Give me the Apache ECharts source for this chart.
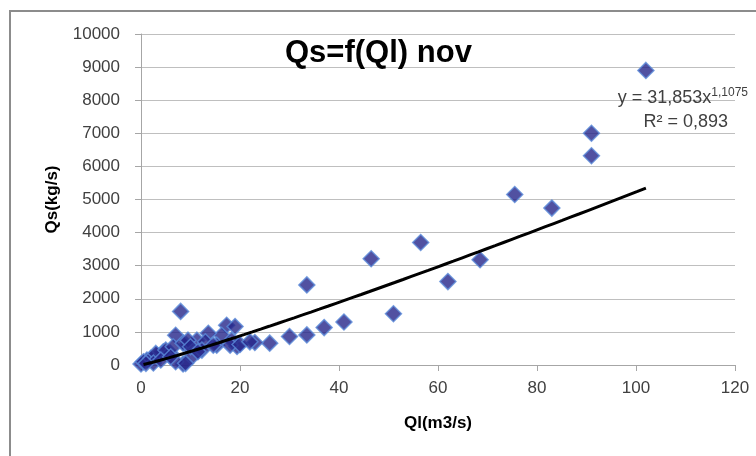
<!DOCTYPE html>
<html>
<head>
<meta charset="utf-8">
<script src="https://cdn.jsdelivr.net/npm/echarts@6/dist/echarts.min.js"></script>
<style>html,body{margin:0;padding:0;background:#fff}#c{width:756px;height:456px}</style>
</head>
<body>
<div id="c"></div>
<script>
// Observed points: Ql (m3/s) and Qs (kg/s)
var qlValues = [102, 91, 91, 75.5, 83, 56.5, 46.5, 68.5, 62, 33.5, 51, 41, 37, 33.5, 30, 26, 23,
  8, 7, 17.3, 19, 16.3, 13.6, 19.4, 18.3, 11.3, 13, 15.3, 8.5, 10.3, 9.2, 4.5, 3.2, 1.2, 0, 5.9,
  12.3, 14.6, 0.5, 2, 3, 5, 6.5, 8.5, 9.5, 10, 7, 9, 11.5, 2.5, 4, 1, 6, 18, 20, 22];
var qsValues = [8900, 7000, 6320, 5150, 4740, 3700, 3210, 3180, 2520, 2420, 1550, 1300, 1130, 910, 860, 660, 680,
  1620, 900, 1200, 1160, 900, 960, 560, 750, 750, 700, 600, 30, 250, 600, 400, 300, 150, 30, 360,
  450, 600, 100, 200, 350, 450, 550, 660, 750, 550, 100, 50, 400, 60, 150, 50, 250, 600, 620, 700];
// Trend line coefficients as shown on the chart: y = a * x^b
var trendA = 31.853, trendB = 1.1075;
var trendRange = [0.5, 102];
var xTicks = [0, 20, 40, 60, 80, 100, 120];
var yTicks = [0, 1000, 2000, 3000, 4000, 5000, 6000, 7000, 8000, 9000, 10000];
var titleText = 'Qs=f(Ql) nov';
var xName = 'Ql(m3/s)';
var yName = 'Qs(kg/s)';

var pts = qlValues.map(function (x, i) { return [x, qsValues[i]]; });
var trend = [];
for (var k = 0; k <= 60; k++) {
  var x = trendRange[0] + (trendRange[1] - trendRange[0]) * k / 60;
  trend.push([x, trendA * Math.pow(x, trendB)]);
}

var chart = echarts.init(document.getElementById('c'), null, {renderer: 'canvas'});
var font = '"Liberation Sans", Arial, sans-serif';
chart.setOption({
  animation: false,
  backgroundColor: '#fff',
  title: {
    text: titleText, left: 280, top: 33,
    textStyle: {fontFamily: font, fontSize: 31, fontWeight: 'bold', color: '#000'}
  },
  grid: {left: 141, right: 21, top: 34, bottom: 91, containLabel: false},
  xAxis: {
    type: 'value', min: xTicks[0], max: xTicks[xTicks.length - 1], interval: 20,
    name: xName, nameLocation: 'middle', nameGap: 50,
    nameTextStyle: {fontFamily: font, fontSize: 17, fontWeight: 'bold', color: '#000'},
    axisLine: {lineStyle: {color: '#a6a6a6', width: 1}},
    axisTick: {show: true, length: 6, lineStyle: {color: '#a6a6a6'}},
    axisLabel: {fontFamily: font, fontSize: 17, color: '#404040', margin: 15},
    splitLine: {show: false}
  },
  yAxis: {
    type: 'value', min: yTicks[0], max: yTicks[yTicks.length - 1], interval: 1000,
    name: yName, nameLocation: 'middle', nameGap: 80, nameRotate: 90,
    nameTextStyle: {fontFamily: font, fontSize: 17, fontWeight: 'bold', color: '#000'},
    axisLine: {show: true, lineStyle: {color: '#a6a6a6', width: 1}},
    axisTick: {show: true, length: 6, lineStyle: {color: '#a6a6a6'}},
    axisLabel: {fontFamily: font, fontSize: 17, color: '#404040', margin: 21,
      formatter: function (v) { return String(v); }},
    splitLine: {show: true, lineStyle: {color: '#bfbfbf', width: 1}}
  },
  graphic: [
    {type: 'rect', shape: {x: 10, y: 11, width: 760, height: 460},
     style: {fill: 'none', stroke: '#8c8c8c', lineWidth: 2}, z: 100},
    {type: 'text', right: 8, top: 87, z: 100,
     style: {rich: {a: {fontFamily: font, fontSize: 18, fill: '#404040'},
                    s: {fontFamily: font, fontSize: 12, fill: '#404040', verticalAlign: 'top', padding: [0,0,10,0]}},
             text: '{a|y = 31,853x}{s|1,1075}'}},
    {type: 'text', right: 28, top: 113, z: 100,
     style: {fontFamily: font, fontSize: 18, fill: '#404040', text: 'R² = 0,893'}}
  ],
  series: [
    {type: 'scatter', data: pts, symbol: 'diamond', symbolSize: 16,
     itemStyle: {color: '#26268a', borderColor: '#5a8ad8', borderWidth: 1.5}, z: 2},
    {type: 'line', data: trend, showSymbol: false, smooth: false,
     lineStyle: {color: '#000', width: 3}, z: 3}
  ]
});
</script>
</body>
</html>
